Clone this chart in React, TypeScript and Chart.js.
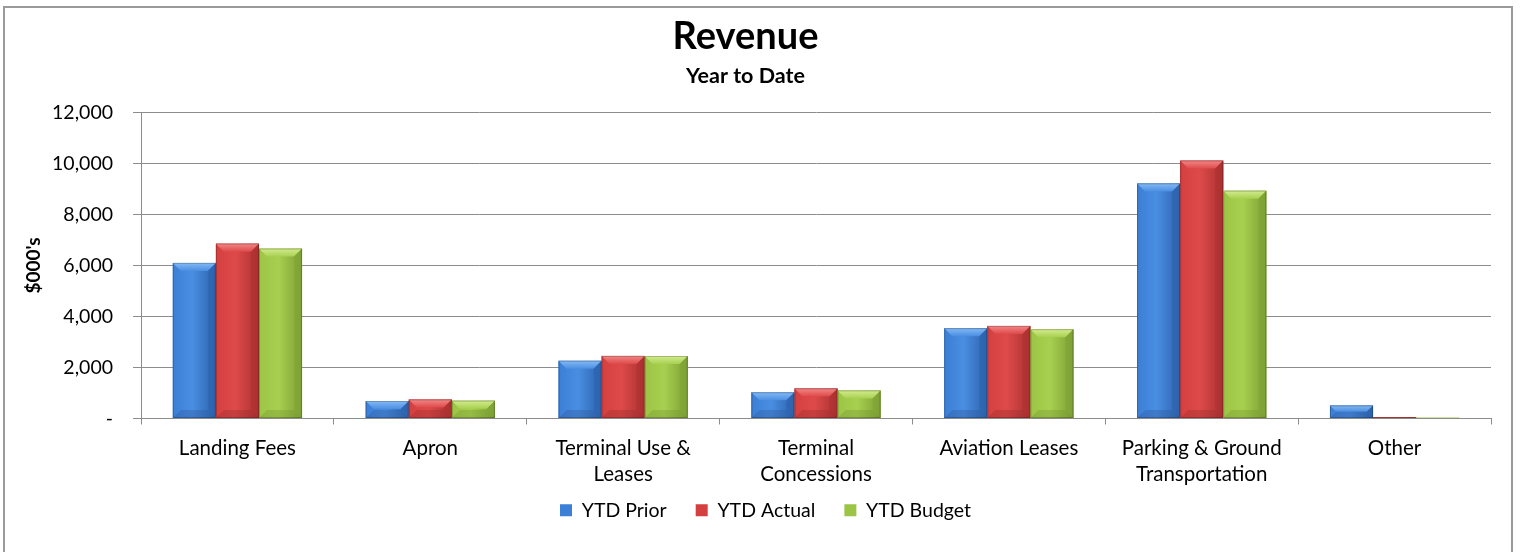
import React, { useEffect, useRef } from "react";
import { Chart, registerables } from "chart.js";

Chart.register(...registerables);

const categories: (string | string[])[] = [
  "Landing Fees",
  "Apron",
  ["Terminal Use &", "Leases"],
  ["Terminal", "Concessions"],
  "Aviation Leases",
  ["Parking & Ground", "Transportation"],
  "Other",
];

const ytdPrior = [6100, 685, 2260, 1025, 3540, 9215, 510];
const ytdActual = [6855, 745, 2455, 1180, 3630, 10110, 55];
const ytdBudget = [6660, 700, 2450, 1100, 3500, 8930, 35];

const seriesNames = ["YTD Prior", "YTD Actual", "YTD Budget"];
const yTicks = [0, 2000, 4000, 6000, 8000, 10000, 12000];

const palettes = [
  { mid: "#3b7fd6", dark: "#2c62ad", light: "#4a8ee2", top: "#86baf4", right: "#2d62ad", bottom: "#2a5a9c" },
  { mid: "#d43f3f", dark: "#aa3131", light: "#de4a4a", top: "#f48787", right: "#ad3131", bottom: "#9a2c2c" },
  { mid: "#9cc545", dark: "#7c9f34", light: "#a8d050", top: "#d3ec90", right: "#7fa335", bottom: "#74952f" },
];

const FONT = "Lato, 'Open Sans', 'Noto Sans', sans-serif";

const bevelPlugin = {
  id: "bevel",
  afterDatasetsDraw(chart: any) {
    const ctx = chart.ctx;
    chart.data.datasets.forEach((_ds: any, di: number) => {
      const meta = chart.getDatasetMeta(di);
      const pal = palettes[di];
      meta.data.forEach((bar: any) => {
        const { x, y, base, width } = bar.getProps(["x", "y", "base", "width"], true);
        const l = x - width / 2;
        const r = x + width / 2;
        const t = Math.min(y, base);
        const b = Math.max(y, base);
        const h = b - t;
        if (h <= 0.5) return;
        ctx.save();
        const g = ctx.createLinearGradient(l, 0, r, 0);
        g.addColorStop(0, pal.mid);
        g.addColorStop(0.45, pal.light);
        g.addColorStop(1, pal.dark);
        ctx.fillStyle = g;
        ctx.fillRect(l, t, width, h);
        const bv = Math.min(8, h / 2, width / 4);
        ctx.beginPath();
        ctx.moveTo(l, t);
        ctx.lineTo(r, t);
        ctx.lineTo(r - bv, t + bv);
        ctx.lineTo(l + bv, t + bv);
        ctx.closePath();
        const gt = ctx.createLinearGradient(0, t, 0, t + bv);
        gt.addColorStop(0, pal.top);
        gt.addColorStop(1, pal.light);
        ctx.fillStyle = gt;
        ctx.fill();
        ctx.beginPath();
        ctx.moveTo(r, t);
        ctx.lineTo(r, b);
        ctx.lineTo(r - bv, b - bv);
        ctx.lineTo(r - bv, t + bv);
        ctx.closePath();
        ctx.fillStyle = pal.right;
        ctx.globalAlpha = 0.6;
        ctx.fill();
        ctx.beginPath();
        ctx.moveTo(l, b);
        ctx.lineTo(r, b);
        ctx.lineTo(r - bv, b - bv);
        ctx.lineTo(l + bv, b - bv);
        ctx.closePath();
        ctx.fillStyle = pal.bottom;
        ctx.globalAlpha = 0.35;
        ctx.fill();
        ctx.globalAlpha = 1;
        ctx.strokeStyle = "rgba(0,0,0,0.22)";
        ctx.lineWidth = 1;
        ctx.strokeRect(l + 0.5, t + 0.5, width - 1, h - 1);
        ctx.restore();
      });
    });
  },
};

const LEGEND_SHIFT_Y = 22;
const LEGEND_SHIFT_X = 20;
const legendShiftPlugin = {
  id: "legendShift",
  afterLayout(chart: any) {
    const lg = chart.legend;
    if (lg) {
      lg.top -= LEGEND_SHIFT_Y;
      lg.bottom -= LEGEND_SHIFT_Y;
      lg.left += LEGEND_SHIFT_X;
      lg.right += LEGEND_SHIFT_X;
    }
  },
};

export default function App() {
  const ref = useRef<HTMLCanvasElement | null>(null);

  useEffect(() => {
    if (!ref.current) return;
    const seriesData = [ytdPrior, ytdActual, ytdBudget];
    const chart = new Chart(ref.current, {
      type: "bar",
      data: {
        labels: categories,
        datasets: seriesNames.map((name, i) => ({
          label: name,
          data: seriesData[i],
          backgroundColor: palettes[i].mid,
          borderWidth: 0,
          categoryPercentage: 0.67,
          barPercentage: 1.0,
        })),
      },
      plugins: [bevelPlugin, legendShiftPlugin],
      options: {
        responsive: false,
        animation: false,
        devicePixelRatio: 1,
        layout: { padding: { left: 0, right: 31, top: 0, bottom: 0 } },
        plugins: {
          title: {
            display: true,
            text: "Revenue",
            color: "#000",
            font: { family: FONT, size: 38, weight: "bold", lineHeight: 1.2 },
            padding: { top: 14, bottom: 0 },
          },
          subtitle: {
            display: true,
            text: "Year to Date",
            color: "#000",
            font: { family: FONT, size: 21.5, weight: "bold", lineHeight: 1.2 },
            padding: { top: 4, bottom: 23 },
          },
          legend: {
            display: true,
            position: "bottom",
            labels: {
              color: "#000",
              font: { family: FONT, size: 19.5 },
              boxWidth: 12,
              boxHeight: 12,
              padding: 29,
            },
          },
          tooltip: { enabled: false },
        },
        scales: {
          x: {
            grid: {
              drawOnChartArea: false,
              drawTicks: true,
              tickLength: 6,
              color: "#8c8c8c",
              offset: true,
            },
            border: { color: "#8c8c8c", width: 1 },
            ticks: {
              color: "#000",
              font: { family: FONT, size: 20.5, lineHeight: 1.27 },
              padding: 11,
              maxRotation: 0,
            },
            afterFit: (s: any) => {
              s.height = 75;
            },
          },
          y: {
            min: 0,
            max: 12000,
            afterBuildTicks: (s: any) => {
              s.ticks = yTicks.map((v) => ({ value: v }));
            },
            grid: { color: "#8c8c8c", tickLength: 8, lineWidth: 1 },
            border: { color: "#8c8c8c", width: 1 },
            ticks: {
              color: "#000",
              font: { family: FONT, size: 19.5 },
              padding: 20,
              callback: (v: any) => (Number(v) === 0 ? "-" : Number(v).toLocaleString("en-US")),
            },
            title: {
              display: true,
              text: "$000's",
              color: "#000",
              font: { family: FONT, size: 19, weight: "bold", lineHeight: 1.2 },
              padding: { top: 22, bottom: 0 },
            },
            afterFit: (s: any) => {
              s.width = 141;
            },
          },
        },
      },
    });
    return () => chart.destroy();
  }, []);

  return (
    <div style={{ position: "fixed", left: 0, top: 0, width: 1522, height: 552, background: "#fff", overflow: "hidden" }}>
      <div
        style={{
          position: "absolute",
          left: 3,
          top: 6,
          width: 1510,
          height: 580,
          border: "2px solid #9a9a9a",
          boxSizing: "border-box",
        }}
      />
      <canvas ref={ref} width={1522} height={552} style={{ position: "absolute", left: 0, top: 0 }} />
    </div>
  );
}
